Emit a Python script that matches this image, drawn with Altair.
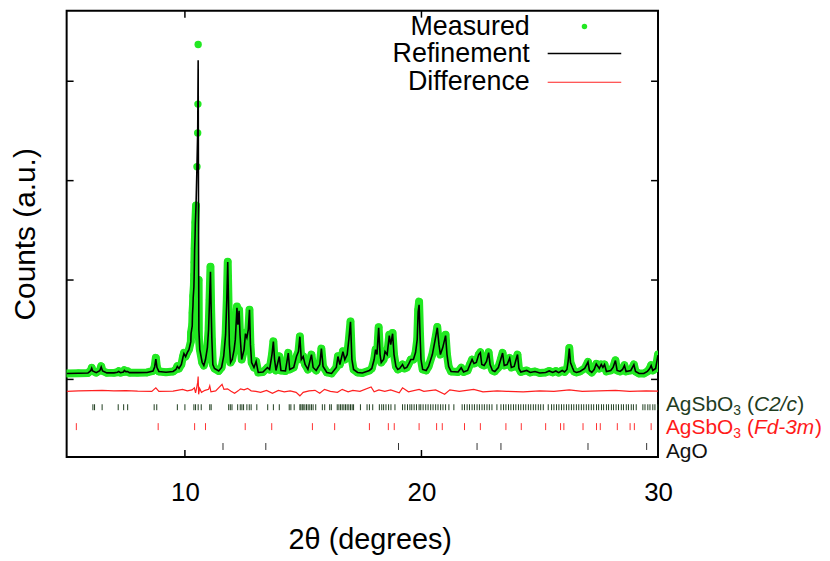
import altair as alt
import pandas as pd

# ---------------- data ----------------
two_theta = [
    5.00, 5.50, 5.90, 6.02, 6.06, 6.10, 6.25, 6.40, 6.46, 6.52,
    6.70, 7.00, 7.15, 7.20, 7.28, 7.40, 7.44, 7.50, 7.58, 7.65,
    8.00, 8.40, 8.65, 8.72, 8.77, 8.82, 8.90, 9.20, 9.50, 9.62,
    9.68, 9.75, 9.85, 9.92, 9.96, 10.03, 10.10, 10.17, 10.25, 10.26,
    10.31, 10.32, 10.34, 10.35, 10.38, 10.39, 10.40, 10.41, 10.43, 10.44,
    10.47, 10.51, 10.54, 10.55, 10.56, 10.58, 10.59, 10.63, 10.73, 10.80,
    10.87, 10.95, 11.00, 11.04, 11.08, 11.11, 11.14, 11.18, 11.25, 11.43,
    11.55, 11.64, 11.72, 11.77, 11.81, 11.85, 11.88, 11.93, 12.00, 12.08,
    12.13, 12.20, 12.24, 12.29, 12.33, 12.40, 12.50, 12.56, 12.62, 12.68,
    12.73, 12.77, 12.82, 12.92, 13.01, 13.10, 13.30, 13.49, 13.58, 13.68,
    13.74, 13.79, 13.85, 13.99, 14.06, 14.25, 14.37, 14.43, 14.60, 14.72,
    14.80, 14.86, 14.92, 15.00, 15.08, 15.20, 15.35, 15.42, 15.55, 15.70,
    15.77, 15.84, 16.00, 16.20, 16.40, 16.47, 16.55, 16.68, 16.76, 16.86,
    16.93, 17.00, 17.06, 17.13, 17.30, 17.50, 17.80, 17.90, 18.00, 18.06,
    18.12, 18.19, 18.25, 18.30, 18.40, 18.46, 18.55, 18.64, 18.70, 18.78,
    18.84, 18.92, 19.00, 19.08, 19.20, 19.28, 19.38, 19.45, 19.55, 19.66,
    19.75, 19.82, 19.86, 19.90, 19.94, 19.98, 20.05, 20.20, 20.30, 20.46,
    20.58, 20.67, 20.74, 20.80, 20.90, 21.02, 21.08, 21.15, 21.25, 21.55,
    21.68, 21.78, 21.95, 22.05, 22.14, 22.22, 22.32, 22.42, 22.49, 22.55,
    22.65, 22.75, 22.84, 22.90, 23.00, 23.10, 23.25, 23.35, 23.43, 23.50,
    23.62, 23.73, 23.80, 23.92, 24.00, 24.06, 24.12, 24.20, 24.45, 24.60,
    24.80, 25.00, 25.25, 25.40, 25.55, 25.68, 25.80, 25.95, 26.05, 26.15,
    26.20, 26.25, 26.30, 26.38, 26.45, 26.55, 26.70, 26.90, 27.04, 27.10,
    27.20, 27.30, 27.39, 27.52, 27.60, 27.67, 27.74, 27.82, 28.00, 28.10,
    28.20, 28.27, 28.40, 28.50, 28.58, 28.65, 28.85, 28.98, 29.05, 29.20,
    29.40, 29.55, 29.65, 29.71, 29.78, 29.90, 30.00,
]
measured = [
    60, 62, 64, 90, 117, 85, 68, 90, 133, 85,
    66, 66, 72, 83, 68, 75, 93, 78, 83, 68,
    68, 70, 85, 130, 217, 120, 80, 72, 80, 100,
    133, 110, 150, 230, 267, 230, 270, 300, 380, 470,
    550, 670, 750, 840, 950, 1050, 1180, 1320, 1470, 1580,
    1750, 2140, 2480, 2770, 3370, 1000, 420, 300, 170, 140,
    200, 320, 500, 800, 1133, 700, 400, 150, 110, 85,
    120, 233, 450, 800, 1183, 700, 350, 170, 200, 300,
    400, 733, 550, 700, 450, 200, 300, 470, 420, 500,
    700, 350, 170, 120, 183, 70, 75, 120, 100, 250,
    383, 200, 90, 233, 90, 85, 267, 100, 120, 233,
    280, 433, 200, 233, 150, 100, 250, 120, 90, 150,
    310, 130, 70, 60, 120, 233, 150, 283, 200, 250,
    400, 583, 200, 100, 70, 65, 90, 110, 200, 300,
    250, 525, 250, 170, 200, 283, 250, 450, 350, 467,
    250, 130, 100, 110, 150, 110, 120, 150, 200, 200,
    270, 400, 700, 783, 450, 200, 100, 90, 130, 250,
    400, 527, 350, 250, 320, 450, 250, 130, 80, 75,
    117, 75, 90, 150, 200, 160, 170, 250, 273, 150,
    140, 180, 273, 150, 90, 80, 120, 200, 267, 140,
    150, 217, 120, 130, 200, 250, 110, 75, 90, 70,
    80, 65, 70, 85, 70, 85, 68, 90, 75, 100,
    180, 317, 170, 120, 80, 70, 80, 110, 177, 90,
    70, 100, 157, 110, 150, 120, 150, 80, 90, 120,
    193, 90, 80, 100, 143, 80, 90, 150, 80, 60,
    60, 80, 110, 143, 90, 110, 250,
]
refinement = [
    60, 62, 64, 88, 112, 85, 68, 88, 125, 85,
    66, 66, 72, 80, 68, 75, 90, 78, 80, 68,
    68, 70, 85, 125, 205, 120, 80, 72, 80, 100,
    130, 110, 150, 225, 260, 230, 270, 300, 380, 460,
    540, 650, 740, 820, 930, 1030, 1150, 1300, 1450, 1560,
    1750, 2150, 2500, 2850, 3210, 1200, 500, 300, 170, 140,
    200, 320, 500, 790, 1083, 700, 400, 150, 110, 85,
    120, 233, 450, 800, 1180, 700, 350, 170, 200, 300,
    400, 720, 550, 690, 450, 200, 300, 460, 420, 500,
    700, 350, 170, 120, 180, 70, 75, 120, 100, 250,
    380, 200, 90, 230, 90, 85, 265, 100, 120, 233,
    280, 430, 200, 230, 150, 100, 250, 120, 90, 150,
    310, 130, 70, 60, 120, 230, 150, 280, 200, 250,
    400, 580, 200, 100, 70, 65, 90, 110, 200, 300,
    250, 520, 250, 170, 200, 280, 250, 440, 350, 460,
    250, 130, 100, 110, 150, 110, 120, 150, 200, 200,
    270, 400, 680, 750, 450, 200, 100, 90, 130, 250,
    400, 520, 350, 250, 320, 440, 250, 130, 80, 75,
    117, 75, 90, 150, 200, 160, 170, 250, 270, 150,
    140, 180, 270, 150, 90, 80, 120, 200, 265, 140,
    150, 215, 120, 130, 200, 250, 110, 75, 90, 70,
    80, 65, 70, 85, 70, 85, 68, 90, 75, 100,
    180, 310, 170, 120, 80, 70, 80, 110, 175, 90,
    70, 100, 155, 110, 150, 120, 150, 80, 90, 120,
    190, 90, 80, 100, 140, 80, 90, 148, 80, 60,
    60, 80, 110, 140, 90, 110, 245,
]
diff_theta = [
    5.00, 5.50, 6.06, 6.50, 7.00, 7.50, 8.00, 8.60, 8.77, 8.90,
    9.50, 9.90, 10.10, 10.30, 10.40, 10.45, 10.50, 10.54, 10.56, 10.58,
    10.62, 10.70, 10.85, 11.00, 11.05, 11.10, 11.30, 11.57, 11.65, 11.80,
    11.95, 12.10, 12.25, 12.35, 12.50, 12.65, 12.80, 13.00, 13.20, 13.45,
    13.70, 13.95, 14.20, 14.45, 14.70, 14.86, 15.00, 15.25, 15.50, 15.70,
    15.90, 16.15, 16.45, 16.65, 16.90, 17.10, 17.40, 17.87, 18.00, 18.20,
    18.45, 18.70, 19.06, 19.20, 19.45, 19.90, 20.10, 20.60, 20.98, 21.20,
    21.60, 22.21, 22.60, 23.20, 23.60, 24.30, 25.00, 25.60, 26.25, 26.80,
    27.50, 28.20, 28.80, 29.50, 30.00,
]
difference = [
    -120, -115, -112, -110, -115, -112, -118, -120, -85, -120,
    -118, -100, -115, -105, -85, -135, -80, -30, 30, -150,
    -90, -130, -110, -100, -65, -125, -115, -50, -100, -95,
    -120, -140, -115, -95, -105, -90, -115, -120, -130, -110,
    -140, -110, -125, -115, -130, -165, -130, -115, -110, -140,
    -100, -120, -130, -100, -125, -110, -120, -75, -125, -105,
    -120, -105, -135, -85, -125, -100, -120, -105, -150, -105,
    -120, -100, -125, -115, -120, -125, -115, -120, -105, -120,
    -115, -110, -120, -115, -118,
]
c2c_ticks = [
    6.11, 6.18, 6.50, 7.18, 7.41, 7.58, 8.70, 8.81, 9.68, 10.00,
    10.38, 10.45, 10.56, 10.69, 11.05, 11.11, 11.85, 11.92, 11.99, 12.23,
    12.34, 12.41, 12.48, 12.62, 12.72, 12.80, 13.04, 13.50, 13.74, 13.99,
    14.41, 14.48, 14.62, 14.86, 14.90, 14.96, 15.00, 15.07, 15.14, 15.21,
    15.28, 15.35, 15.42, 15.53, 15.81, 15.91, 16.12, 16.19, 16.44, 16.51,
    16.58, 16.65, 16.72, 16.79, 16.86, 16.93, 17.00, 17.07, 17.13, 17.42,
    17.70, 17.80, 17.94, 18.22, 18.32, 18.40, 18.50, 18.61, 18.71, 18.88,
    19.20, 19.30, 19.41, 19.51, 19.59, 19.69, 19.79, 19.90, 19.97, 20.07,
    20.18, 20.28, 20.39, 20.49, 20.60, 20.70, 20.81, 20.91, 21.02, 21.16,
    21.37, 21.72, 21.82, 21.93, 22.03, 22.14, 22.24, 22.35, 22.45, 22.56,
    22.66, 22.77, 22.87, 22.98, 23.19, 23.36, 23.47, 23.57, 23.68, 23.78,
    23.89, 23.99, 24.10, 24.20, 24.31, 24.41, 24.52, 24.62, 24.73, 24.83,
    24.94, 25.04, 25.15, 25.36, 25.50, 25.60, 25.71, 25.81, 25.92, 26.02,
    26.13, 26.23, 26.34, 26.44, 26.55, 26.65, 26.76, 26.86, 26.97, 27.07,
    27.18, 27.28, 27.40, 27.49, 27.61, 27.70, 27.82, 27.91, 28.03, 28.12,
    28.23, 28.33, 28.45, 28.54, 28.66, 28.75, 28.87, 28.96, 29.08, 29.36,
    29.45, 29.57, 29.66, 29.78, 29.87, 29.99,
]
fd3m_ticks = [
    5.41, 8.87, 10.41, 10.87, 12.55, 13.67, 15.39, 16.33, 17.80, 18.60,
    18.85, 19.90, 20.64, 20.88, 21.82, 22.49, 23.57, 24.22, 25.25, 25.88,
    26.02, 26.83, 27.40, 27.56, 28.28, 28.82, 29.00, 29.71,
]
ago_ticks = [11.61, 13.42, 19.03, 22.35, 23.36, 27.04, 29.52]
x_tick_values = [10, 20]
x_label_values = [10, 20, 30]
y_tick_values = [0, 1000, 2000, 3000]
legend_labels = ["Measured", "Refinement", "Difference"]

assert len(two_theta) == len(measured) == len(refinement)
assert len(diff_theta) == len(difference)

# ---------------- styling ----------------
FONT = "Liberation Sans"
GREEN = "#22e822"
RED = "#ff2020"
DKGREEN = "#1f3d1f"
W, H = 595, 449
BAND_MAX = 1800  # above this the measured points are drawn as separate dots only

xs = alt.Scale(domain=[5, 30], nice=False, zero=False)
ys = alt.Scale(domain=[-780, 3710], nice=False, zero=False)

x_axis = alt.Axis(values=x_label_values, title="2θ (degrees)", grid=False,
                  ticks=False, domain=False, labelFontSize=26, labelFont=FONT,
                  labelColor="black", labelPadding=23, labelFlush=False,
                  titleFont=FONT, titleFontSize=29, titleFontWeight="normal",
                  titleColor="black", titlePadding=20, titleX=305)
y_axis = alt.Axis(title="Counts (a.u.)", labels=False, ticks=False, domain=False,
                  grid=False, titleFont=FONT, titleFontSize=30,
                  titleFontWeight="normal", titleColor="black", titlePadding=26)


def X(field="x"):
    return alt.X(f"{field}:Q", scale=xs, axis=x_axis)


def Y(field):
    return alt.Y(f"{field}:Q", scale=ys, axis=y_axis)


pat = pd.DataFrame({"x": two_theta, "obs": measured, "calc": refinement})
pat["band"] = [v if v <= BAND_MAX else None for v in measured]
dif = pd.DataFrame({"x": diff_theta, "d": difference})

rows = []
for v in c2c_ticks:
    rows.append({"x": v, "y0": -250, "y1": -310, "c": DKGREEN})
for v in fd3m_ticks:
    rows.append({"x": v, "y0": -440, "y1": -510, "c": "#ff3030"})
for v in ago_ticks:
    rows.append({"x": v, "y0": -640, "y1": -710, "c": "#333333"})
phase = pd.DataFrame(rows)

obs_band = alt.Chart(pat).mark_line(
    color=GREEN, strokeWidth=8, strokeCap="round", strokeJoin="round", clip=True,
    invalid="break-paths-filter-domains").encode(x=X(), y=Y("band"))
obs_pts = alt.Chart(pat).mark_circle(color=GREEN, size=55, opacity=1, clip=True).encode(
    x=X(), y=Y("obs"))
calc_line = alt.Chart(pat).mark_line(color="black", strokeWidth=1.6, clip=True).encode(
    x=X(), y=Y("calc"))
diff_line = alt.Chart(dif).mark_line(color=RED, strokeWidth=1.2, clip=True).encode(
    x=X(), y=Y("d"))
phase_ticks = alt.Chart(phase).mark_rule(strokeWidth=1).encode(
    x=X(), y=Y("y0"), y2="y1", color=alt.Color("c:N", scale=None))

# inward ticks on all four sides
xt = pd.DataFrame({"x": x_tick_values})
yt = pd.DataFrame({"v": y_tick_values})
xt_bot = alt.Chart(xt).mark_rule(color="black", strokeWidth=1.5).encode(
    x=X(), y=alt.value(H), y2=alt.value(H - 7))
xt_top = alt.Chart(xt).mark_rule(color="black", strokeWidth=1.5).encode(
    x=X(), y=alt.value(0), y2=alt.value(7))
yt_left = alt.Chart(yt).mark_rule(color="black", strokeWidth=1.5).encode(
    y=Y("v"), x=alt.value(0), x2=alt.value(7))
yt_right = alt.Chart(yt).mark_rule(color="black", strokeWidth=1.5).encode(
    y=Y("v"), x=alt.value(W), x2=alt.value(W - 7))

# legend (labels to the left of the symbols)
leg_layers = []
for lab, ypx in zip(legend_labels, [16, 44, 72]):
    leg_layers.append(
        alt.Chart(pd.DataFrame({"t": [lab]})).mark_text(
            align="right", baseline="middle", font=FONT, fontSize=27, color="black"
        ).encode(x=alt.value(466), y=alt.value(ypx), text="t:N"))
one = pd.DataFrame({"k": [0]})
leg_dot = alt.Chart(one).mark_circle(color=GREEN, size=30, opacity=1).encode(
    x=alt.value(521), y=alt.value(16))
leg_black = alt.Chart(one).mark_rule(color="black", strokeWidth=1.5).encode(
    x=alt.value(484), x2=alt.value(558), y=alt.value(43))
leg_red = alt.Chart(one).mark_rule(color=RED, strokeWidth=1.2).encode(
    x=alt.value(484), x2=alt.value(558), y=alt.value(72))


def label(text, xpx, ypx, color, size=21, italic=False):
    return alt.Chart(pd.DataFrame({"t": [text]})).mark_text(
        align="left", baseline="middle", font=FONT, fontSize=size, color=color,
        fontStyle="italic" if italic else "normal"
    ).encode(x=alt.value(xpx), y=alt.value(ypx), text="t:N")


x0 = 603
phase_labels = [
    label("AgSbO", x0, 397, DKGREEN),
    label("3", x0 + 67.7, 403, DKGREEN, size=14),
    label("(", x0 + 81.5, 397, DKGREEN),
    label("C2/c", x0 + 88.5, 397, DKGREEN, italic=True),
    label(")", x0 + 132, 397, DKGREEN),
    label("AgSbO", x0, 420, "#ff1a1a"),
    label("3", x0 + 67.7, 426, "#ff1a1a", size=14),
    label("(", x0 + 81.5, 420, "#ff1a1a"),
    label("Fd-3m", x0 + 88.5, 420, "#ff1a1a", italic=True),
    label(")", x0 + 150, 420, "#ff1a1a"),
    label("AgO", x0, 444, "#111111"),
]

chart = alt.layer(
    obs_band, obs_pts, calc_line, diff_line, phase_ticks,
    xt_bot, xt_top, yt_left, yt_right,
    *leg_layers, leg_dot, leg_black, leg_red,
    *phase_labels,
).properties(
    width=W, height=H,
    autosize=alt.AutoSizeParams(type="none"),
    padding={"left": 59, "top": 1, "right": 165, "bottom": 102},
).configure_view(stroke="black", strokeWidth=2)

chart.save("out.html", embed_options={"renderer": "svg", "actions": False})
